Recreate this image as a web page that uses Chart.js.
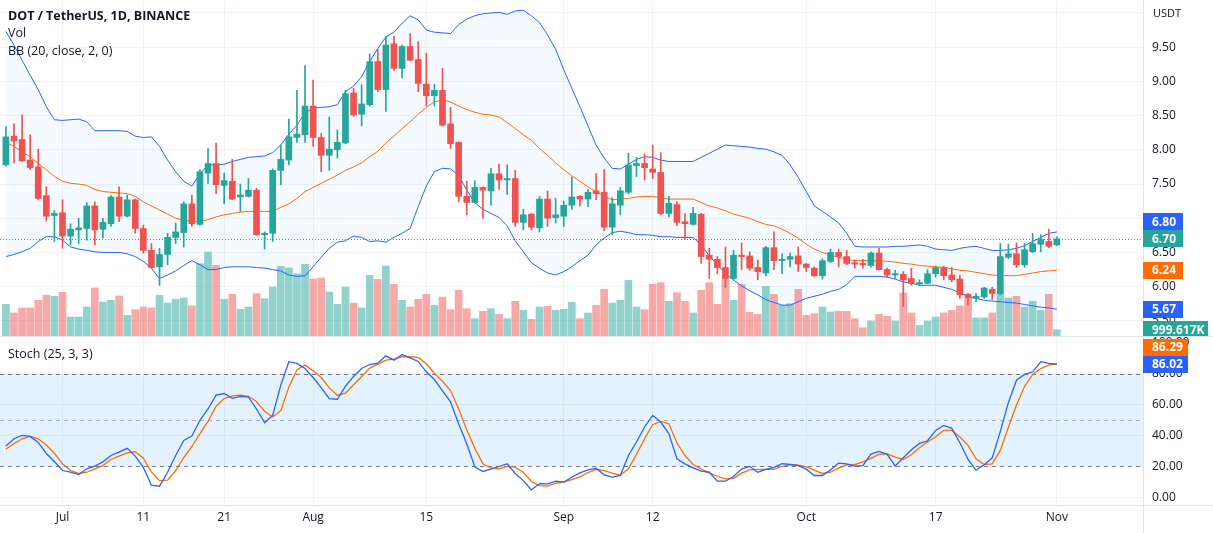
<!DOCTYPE html>
<html><head><meta charset="utf-8">
<script src="https://cdn.jsdelivr.net/npm/chart.js@4.4.0/dist/chart.umd.min.js"></script>
<style>
html,body{margin:0;padding:0;background:#fff;width:1213px;height:533px;overflow:hidden;position:relative}
canvas{position:absolute;left:0}
#pA{top:0}
#pB{top:337px}
.ln{position:absolute;background:#e0e3eb}
</style></head><body>
<div class="ln" style="left:0;top:336px;width:1213px;height:1px"></div>
<div class="ln" style="left:0;top:505px;width:1213px;height:1px"></div>
<div class="ln" style="left:1143px;top:0;width:1px;height:533px"></div>
<canvas id="pA" width="1213" height="336"></canvas>
<canvas id="pB" width="1213" height="196"></canvas>
<script>
// ---------- DATA (DOT/USDT daily, 2022) ----------
const dates = ['06-24','06-25','06-26','06-27','06-28','06-29','06-30',
'07-01','07-02','07-03','07-04','07-05','07-06','07-07','07-08','07-09','07-10','07-11','07-12','07-13','07-14','07-15','07-16','07-17','07-18','07-19','07-20','07-21','07-22','07-23','07-24','07-25','07-26','07-27','07-28','07-29','07-30','07-31',
'08-01','08-02','08-03','08-04','08-05','08-06','08-07','08-08','08-09','08-10','08-11','08-12','08-13','08-14','08-15','08-16','08-17','08-18','08-19','08-20','08-21','08-22','08-23','08-24','08-25','08-26','08-27','08-28','08-29','08-30','08-31',
'09-01','09-02','09-03','09-04','09-05','09-06','09-07','09-08','09-09','09-10','09-11','09-12','09-13','09-14','09-15','09-16','09-17','09-18','09-19','09-20','09-21','09-22','09-23','09-24','09-25','09-26','09-27','09-28','09-29','09-30',
'10-01','10-02','10-03','10-04','10-05','10-06','10-07','10-08','10-09','10-10','10-11','10-12','10-13','10-14','10-15','10-16','10-17','10-18','10-19','10-20','10-21','10-22','10-23','10-24','10-25','10-26','10-27','10-28','10-29','10-30','10-31',
'11-01'];

const open = [7.78,8.20,8.15,7.85,7.75,7.33,7.04,7.08,6.74,6.83, 6.85,7.18,6.84,6.92,7.31,7.03,7.27,6.85,6.53,6.29, 6.47,6.72,6.79,7.21,6.91,7.66,7.80,7.48,7.54,7.31, 7.32,7.41,6.76,6.78,7.70,7.85,8.18,8.22,8.64,8.18, 7.92,8.00,8.10,8.83,8.52,8.66,9.29,8.88,9.55,9.19, 9.51,9.32,8.96,8.79,8.87,8.38,8.11,7.32,7.23,7.45, 7.40,7.65,7.56,7.58,6.94,7.06,6.86,7.28,7.01,7.03, 7.19,7.32,7.28,7.40,7.38,6.87,7.19,7.38,7.77,7.80, 7.72,7.67,7.07,7.20,6.95,6.91,7.06,6.46,6.40,6.28, 6.12,6.46,6.45,6.28,6.20,6.57,6.38,6.40,6.45,6.33, 6.27,6.16,6.37,6.50,6.44,6.35,6.34,6.31,6.49,6.25, 6.17,6.18,6.12,6.04,6.05,6.19,6.28,6.17,6.11,5.89, 5.83,5.85,5.96,5.90,6.43,6.48,6.32,6.51,6.62,6.66, 6.61];
const high = [8.34,8.38,8.51,8.22,8.01,7.46,7.11,7.27,6.92,7.00, 7.23,7.24,7.00,7.33,7.46,7.34,7.28,6.90,6.63,6.56, 6.78,6.93,7.24,7.34,7.71,8.02,8.10,7.66,7.86,7.50, 7.58,7.44,6.80,7.72,8.07,8.45,8.87,9.23,9.02,8.24, 8.48,8.29,8.87,8.90,8.95,9.40,9.47,9.66,9.66,9.53, 9.70,9.58,9.41,8.96,9.19,8.62,8.12,7.54,7.55,7.46, 7.73,7.79,7.78,7.70,7.13,7.07,7.32,7.40,7.29,7.25, 7.60,7.33,7.42,7.65,7.71,7.30,7.45,7.95,7.89,7.94, 8.07,7.96,7.32,7.24,7.07,7.16,7.07,6.56,6.44,6.58, 6.53,6.64,6.51,6.39,6.59,6.80,6.48,6.49,6.58,6.34, 6.29,6.41,6.55,6.55,6.53,6.39,6.40,6.51,6.56,6.27, 6.24,6.22,6.27,6.10,6.25,6.30,6.30,6.28,6.17,5.90, 5.90,5.99,5.99,6.63,6.62,6.64,6.63,6.78,6.76,6.84, 6.73];
const low = [7.76,7.81,7.83,7.71,7.27,6.96,6.66,6.56,6.61,6.63, 6.68,6.61,6.71,6.88,6.95,7.02,6.78,6.49,6.27,6.02, 6.32,6.63,6.58,6.88,6.90,7.51,7.36,7.21,7.27,7.10, 7.31,6.75,6.55,6.66,7.49,7.78,8.11,8.11,8.05,7.68, 7.70,7.88,8.09,8.49,8.35,8.64,8.85,8.56,9.16,9.05, 9.30,8.85,8.64,8.64,8.35,8.02,7.24,7.05,7.22,7.00, 7.19,7.42,7.35,6.88,6.83,6.83,6.80,6.88,6.93,6.88, 7.13,7.18,7.17,7.27,6.82,6.76,7.05,7.36,7.61,7.56, 7.58,7.05,7.02,6.89,6.69,6.90,6.34,6.12,6.19,5.99, 6.10,6.25,6.24,6.10,6.16,6.25,6.19,6.29,6.22,6.22, 6.15,6.11,6.35,6.29,6.32,6.27,6.27,6.29,6.24,6.14, 6.12,5.71,6.02,6.02,6.04,6.14,6.10,6.07,5.83,5.73, 5.78,5.83,5.81,5.88,6.41,6.28,6.28,6.50,6.51,6.57, 6.60];
const close = [8.19,8.13,7.84,7.74,7.29,7.03,7.07,6.74,6.84,6.86, 7.18,6.83,6.94,7.31,7.03,7.27,6.85,6.53,6.28,6.47, 6.72,6.80,7.21,6.92,7.68,7.80,7.49,7.55,7.28,7.34, 7.41,6.76,6.78,7.70,7.86,8.19,8.23,8.64,8.18,7.92, 8.01,8.11,8.82,8.51,8.67,9.29,8.88,9.53,9.19,9.51, 9.31,8.97,8.79,8.87,8.36,8.09,7.32,7.23,7.45,7.41, 7.65,7.56,7.58,6.94,7.05,6.87,7.28,7.00,7.05,7.19, 7.31,7.28,7.38,7.36,6.87,7.21,7.40,7.78,7.80,7.74, 7.67,7.07,7.22,6.94,6.92,7.07,6.44,6.40,6.28,6.12, 6.46,6.44,6.27,6.22,6.57,6.38,6.40,6.44,6.33,6.28, 6.16,6.38,6.50,6.44,6.34,6.33,6.32,6.49,6.25,6.17, 6.19,6.10,6.05,6.06,6.19,6.28,6.16,6.10,5.88,5.84, 5.86,5.98,5.90,6.44,6.48,6.32,6.54,6.63,6.69,6.59, 6.70];
// volume in millions of DOT
const volume = [4.94,3.59,4.37,4.37,5.56,6.34,6.19,6.81,2.96,2.96, 4.52,7.49,5.30,5.56,6.24,3.22,4.11,4.52,4.37,6.34, 5.15,5.72,5.93,4.68,11.28,13.10,11.02,5.72,6.50,4.16, 4.52,6.60,5.82,7.64,10.87,10.61,9.72,11.18,8.89,9.05, 6.86,4.94,7.64,5.15,4.37,9.46,8.84,10.92,8.06,5.56, 4.52,5.72,6.50,4.78,6.08,4.11,7.12,4.26,2.70,3.85, 4.26,3.38,2.70,5.41,4.00,2.60,4.52,4.63,4.00,4.16, 5.25,2.70,3.59,4.78,7.28,5.15,5.56,8.68,4.52,4.11, 8.06,8.32,5.41,6.76,5.41,3.59,7.12,8.32,4.94,8.94, 5.56,8.06,3.69,3.38,7.75,6.50,4.78,5.04,7.28,3.22, 3.48,4.52,3.74,3.85,3.85,2.70,1.30,2.34,3.38,3.07, 2.34,6.71,3.59,1.66,2.34,2.96,3.59,4.00,4.68,5.93, 2.81,2.81,3.59,6.76,5.93,6.19,4.52,5.41,4.00,6.50, 0.999617];
const bbUpper = [9.73,9.53,9.31,9.09,8.88,8.63,8.44,8.43,8.44,8.45, 8.41,8.28,8.28,8.28,8.28,8.27,8.20,8.18,8.19,8.05, 7.85,7.68,7.54,7.47,7.65,7.78,7.78,7.79,7.83,7.86, 7.89,7.90,7.91,7.96,8.07,8.23,8.36,8.54,8.61,8.62, 8.63,8.66,8.85,8.93,9.07,9.29,9.48,9.65,9.72,9.85, 9.96,9.90,9.75,9.72,9.71,9.70,9.83,9.91,9.96,9.99, 10.00,10.01,9.98,10.03,10.04,9.96,9.86,9.68,9.47,9.17, 8.90,8.63,8.35,8.07,7.88,7.73,7.72,7.79,7.86,7.90, 7.89,7.85,7.83,7.83,7.83,7.83,7.89,7.95,8.01,8.07, 8.06,8.05,8.04,8.02,8.01,7.97,7.92,7.78,7.60,7.39, 7.18,7.10,7.02,6.93,6.78,6.59,6.58,6.58,6.58,6.58, 6.59,6.59,6.60,6.61,6.59,6.55,6.54,6.53,6.56,6.58, 6.59,6.56,6.53,6.53,6.54,6.56,6.60,6.66,6.72,6.78, 6.80];
const bbBasis = [8.11,8.05,7.97,7.90,7.80,7.71,7.61,7.54,7.51,7.50, 7.48,7.42,7.39,7.38,7.37,7.36,7.32,7.24,7.18,7.12, 7.06,7.00,6.97,6.96,6.95,6.98,7.02,7.05,7.07,7.09, 7.10,7.10,7.10,7.10,7.16,7.21,7.29,7.39,7.45,7.51, 7.57,7.63,7.70,7.75,7.81,7.90,7.98,8.10,8.20,8.31, 8.41,8.52,8.62,8.70,8.73,8.70,8.64,8.59,8.55,8.52, 8.51,8.48,8.40,8.31,8.22,8.14,8.02,7.92,7.81,7.71, 7.62,7.54,7.46,7.39,7.32,7.27,7.28,7.29,7.31,7.32, 7.32,7.30,7.28,7.28,7.28,7.28,7.23,7.18,7.15,7.11, 7.06,7.03,7.00,6.95,6.91,6.89,6.84,6.78,6.71,6.62, 6.55,6.50,6.46,6.43,6.40,6.38,6.38,6.38,6.38,6.37, 6.36,6.34,6.33,6.31,6.30,6.29,6.28,6.26,6.24,6.23, 6.21,6.19,6.17,6.16,6.16,6.16,6.18,6.20,6.22,6.23, 6.24];
const bbLower = [6.44,6.47,6.51,6.56,6.66,6.73,6.73,6.68,6.58,6.55, 6.53,6.51,6.50,6.50,6.50,6.48,6.44,6.37,6.27,6.12, 6.17,6.23,6.31,6.38,6.32,6.25,6.25,6.28,6.29,6.29, 6.29,6.28,6.27,6.25,6.23,6.17,6.15,6.16,6.29,6.43, 6.56,6.65,6.67,6.74,6.72,6.66,6.67,6.65,6.72,6.78, 6.85,7.17,7.47,7.68,7.73,7.72,7.63,7.41,7.23,7.13, 7.07,7.01,6.89,6.67,6.51,6.35,6.27,6.20,6.17,6.22, 6.29,6.38,6.46,6.61,6.71,6.79,6.81,6.79,6.76,6.76, 6.75,6.73,6.73,6.72,6.72,6.72,6.61,6.45,6.32,6.19, 6.10,6.01,5.94,5.88,5.81,5.77,5.73,5.73,5.78,5.83, 5.86,5.89,5.93,5.96,6.03,6.15,6.15,6.15,6.15,6.14, 6.11,6.07,6.05,6.02,6.02,6.02,5.99,5.96,5.91,5.86, 5.83,5.80,5.79,5.78,5.77,5.76,5.74,5.72,5.70,5.69, 5.67];
const stochK = [33.2,37.9,40.1,39.4,35.5,28.4,23.2,17.4,16.3,14.8, 18.5,20.2,23.0,27.1,29.3,31.7,26.7,19.4,7.9,7.3, 16.3,27.1,36.8,39.6,49.8,57.1,66.0,67.1,64.0,65.3, 64.7,57.1,48.3,53.0,72.5,87.6,86.5,83.2,77.4,70.9, 63.8,63.4,71.8,78.1,83.2,85.8,86.7,91.4,88.6,92.3, 90.1,87.8,81.1,76.1,68.8,61.7,47.6,34.7,19.8,16.8, 18.3,20.0,21.7,15.5,10.9,4.9,9.0,8.8,10.5,9.9, 13.1,15.9,17.8,18.9,14.6,13.1,14.2,27.1,35.8,45.5, 53.0,48.7,41.2,25.0,21.7,19.1,17.0,16.3,10.5,10.5, 13.5,18.3,20.0,16.3,18.1,19.4,21.9,21.3,20.6,18.3, 14.2,14.2,17.8,22.2,21.7,20.2,20.6,28.0,29.7,27.8, 20.4,25.6,30.8,34.9,36.6,43.3,46.5,44.6,35.3,24.7, 17.6,21.1,25.6,42.7,61.2,75.7,79.4,81.1,87.6,86.5, 86.02];
const stochD = [31.2,34.7,37.9,39.4,37.9,33.8,28.6,21.7,17.4,15.5, 16.3,18.5,20.6,24.5,26.7,28.8,29.5,25.4,16.5,10.9, 11.2,17.4,25.8,32.9,41.2,49.1,58.9,63.8,65.5,66.0, 65.3,61.9,55.6,51.9,56.0,71.2,82.4,85.4,81.7,77.4, 70.7,66.0,67.3,72.7,78.1,83.5,86.0,88.6,89.3,90.8, 90.8,90.4,86.3,80.0,75.0,69.0,57.3,43.7,31.7,21.7, 18.9,18.5,20.0,19.6,16.3,10.3,7.7,7.3,9.2,9.9, 11.6,13.3,16.1,18.1,17.4,15.7,14.4,18.5,27.8,37.9, 47.0,49.1,47.6,35.3,27.1,21.3,18.5,15.9,13.7,12.0, 12.4,15.7,17.8,18.1,18.1,18.1,20.0,21.3,20.9,19.8, 17.6,15.5,16.3,18.9,21.1,21.3,23.0,25.2,28.0,28.2, 26.0,24.5,27.6,32.1,35.8,39.2,43.3,43.3,39.0,33.6, 25.0,21.3,21.7,30.4,45.3,59.7,71.6,79.4,83.2,85.4, 86.29];

const tickDates = ['07-01','07-11','07-21','08-01','08-15','09-01','09-12','10-01','10-17','11-01'];
const tickLabels = ['Jul','11','21','Aug','15','Sep','12','Oct','17','Nov'];
const priceTicks = [5.5,6,6.5,7,7.5,8,8.5,9,9.5,10];
const stochTicks = [0,20,40,60,80,100];
const stochBands = [20,50,80];

// ---------- STYLE / LAYOUT ----------
const FONT = "'Open Sans', 'Noto Sans', sans-serif";
const TXT = '#131722';
const UP = '#26a69a', DOWN = '#ef5350';
const BLUE = '#2962ff', ORANGE = '#ff6d00';
const GRID = '#f0f3fa';
const AXIS_W = 70;
const X_MIN = -0.73, X_MAX = 140.65;

const N = close.length;
const idx = close.map((_, i) => i);
const isUp = idx.map(i => close[i] >= open[i]);
const tickPos = tickDates.map(d => dates.indexOf(d));
const pt = arr => arr.map((v, i) => ({x: i, y: v}));

function xScale(showLabels) {
  return {
    type: 'linear', min: X_MIN, max: X_MAX, offset: false,
    grid: {color: GRID, offset: false, drawTicks: false},
    border: {display: false},
    ticks: {display: showLabels, autoSkip: false, maxRotation: 0, padding: 5, color: TXT,
      font: {family: FONT, size: 12},
      callback: v => { const k = tickPos.indexOf(v); return k >= 0 ? tickLabels[k] : ''; }},
    afterBuildTicks: s => { s.ticks = tickPos.map(v => ({value: v})); },
    afterFit: s => { s.height = showLabels ? 28 : 0; s.paddingLeft = 0; s.paddingRight = 0; }
  };
}
function yScale(min, max, ticks, fmt) {
  return {
    type: 'linear', position: 'right', min, max,
    grid: {color: GRID, drawTicks: false},
    border: {display: false},
    ticks: {padding: 9, color: TXT, font: {family: FONT, size: 12}, callback: fmt},
    afterBuildTicks: s => { s.ticks = ticks.map(v => ({value: v})); },
    afterFit: s => { s.width = AXIS_W; s.paddingTop = 0; s.paddingBottom = 0; }
  };
}

function placeTags(tags) {
  const H = 17;
  const main = tags.find(t => t.main);
  main.py = main.y;
  const placed = [main];
  const rest = tags.filter(t => !t.main).sort((a, b) => Math.abs(a.y - main.y) - Math.abs(b.y - main.y));
  for (const t of rest) {
    let py = t.y;
    for (let it = 0; it < 10; it++) {
      let moved = false;
      for (const p of placed) {
        if (Math.abs(py - p.py) < H) { py = (t.y <= p.y ? p.py - H : p.py + H); moved = true; }
      }
      if (!moved) break;
    }
    t.py = py; placed.push(t);
  }
}
function drawTags(ctx, x0, tags) {
  placeTags(tags);
  ctx.save();
  ctx.font = "bold 12px " + FONT;
  ctx.textBaseline = 'middle';
  ctx.textAlign = 'left';
  for (const t of tags) {
    ctx.fillStyle = t.color;
    ctx.fillRect(x0, Math.round(t.py - 8.5), t.w, 17);
    ctx.fillStyle = '#ffffff';
    ctx.fillText(t.text, x0 + 9, t.py + 0.5);
  }
  ctx.restore();
}

// ---------- PRICE PANE ----------
const overlayA = {
  id: 'overlayA',
  afterDatasetsDraw(chart) {
    const {ctx, chartArea, scales} = chart;
    const yc = Math.round(scales.y.getPixelForValue(close[N - 1])) + 0.5;
    ctx.save();
    ctx.strokeStyle = UP; ctx.lineWidth = 1; ctx.setLineDash([1, 2]);
    ctx.beginPath(); ctx.moveTo(chartArea.left, yc); ctx.lineTo(chartArea.right, yc); ctx.stroke();
    ctx.restore();
  },
  afterDraw(chart) {
    const {ctx, chartArea, scales} = chart;
    ctx.save();
    ctx.fillStyle = TXT; ctx.textBaseline = 'middle'; ctx.textAlign = 'left';
    ctx.font = "bold 12.5px " + FONT;
    ctx.fillText('DOT / TetherUS, 1D, BINANCE', 8, 16);
    ctx.font = "12.5px " + FONT;
    ctx.fillText('Vol', 8, 33.5);
    ctx.fillText('BB (20, close, 2, 0)', 8, 51);
    ctx.font = "11px " + FONT;
    ctx.fillText('USDT', chartArea.right + 10, 14);
    ctx.restore();
    const y = scales.y, yv = scales.yv;
    drawTags(ctx, chartArea.right, [
      {y: y.getPixelForValue(bbUpper[N - 1]), text: bbUpper[N - 1].toFixed(2), color: BLUE, w: 40},
      {y: y.getPixelForValue(close[N - 1]), text: close[N - 1].toFixed(2), color: UP, w: 40, main: true},
      {y: y.getPixelForValue(bbBasis[N - 1]), text: bbBasis[N - 1].toFixed(2), color: ORANGE, w: 40},
      {y: y.getPixelForValue(bbLower[N - 1]), text: bbLower[N - 1].toFixed(2), color: BLUE, w: 40},
      {y: yv.getPixelForValue(volume[N - 1]), text: (volume[N - 1] * 1000).toFixed(3) + 'K', color: UP, w: 65}
    ]);
  }
};

new Chart(document.getElementById('pA'), {
  type: 'bar',
  data: {
    datasets: [
      {type: 'bar', data: idx.map(i => ({x: i, y: [open[i], close[i]]})), yAxisID: 'y',
        backgroundColor: isUp.map(u => u ? UP : DOWN), barThickness: 6, grouped: false, minBarLength: 1, order: 0},
      {type: 'bar', data: idx.map(i => ({x: i, y: [low[i], high[i]]})), yAxisID: 'y',
        backgroundColor: isUp.map(u => u ? UP : DOWN), barThickness: 1, grouped: false, order: 1},
      {type: 'line', data: pt(bbBasis), yAxisID: 'y', borderColor: ORANGE, borderWidth: 1, pointRadius: 0, fill: false, order: 2},
      {type: 'line', data: pt(bbLower), yAxisID: 'y', borderColor: BLUE, borderWidth: 1, pointRadius: 0, fill: false, order: 3},
      {type: 'line', data: pt(bbUpper), yAxisID: 'y', borderColor: BLUE, borderWidth: 1, pointRadius: 0,
        fill: {target: 3}, backgroundColor: 'rgba(33,150,243,0.05)', order: 4},
      {type: 'bar', data: pt(volume), yAxisID: 'yv',
        backgroundColor: isUp.map(u => u ? 'rgba(38,166,154,0.5)' : 'rgba(239,83,80,0.5)'),
        barThickness: 7, grouped: false, order: 5}
    ]
  },
  options: {
    responsive: false, animation: false, devicePixelRatio: 1,
    layout: {padding: 0},
    plugins: {legend: {display: false}, tooltip: {enabled: false}},
    scales: {
      x: xScale(false),
      y: yScale(5.279, 10.19, priceTicks, v => v >= 10 ? '' : v.toFixed(2)),
      yv: {type: 'linear', display: false, min: 0, max: 52.4}
    }
  },
  plugins: [overlayA]
});

// ---------- STOCH PANE ----------
const overlayB = {
  id: 'overlayB',
  beforeDatasetsDraw(chart) {
    const {ctx, chartArea, scales} = chart;
    const y = scales.y;
    const yTop = y.getPixelForValue(stochBands[2]), yBot = y.getPixelForValue(stochBands[0]);
    ctx.save();
    ctx.fillStyle = 'rgba(33,150,243,0.12)';
    ctx.fillRect(chartArea.left, yTop, chartArea.right - chartArea.left, yBot - yTop);
    ctx.setLineDash([4, 4]); ctx.lineWidth = 1;
    stochBands.forEach(b => {
      const yy = Math.round(y.getPixelForValue(b)) + 0.5;
      ctx.strokeStyle = b === 50 ? 'rgba(120,123,134,0.55)' : '#787b86';
      ctx.beginPath(); ctx.moveTo(chartArea.left, yy); ctx.lineTo(chartArea.right, yy); ctx.stroke();
    });
    ctx.restore();
  },
  afterDraw(chart) {
    const {ctx, chartArea, scales} = chart;
    ctx.save();
    ctx.fillStyle = TXT; ctx.textBaseline = 'middle'; ctx.textAlign = 'left';
    ctx.font = "12.5px " + FONT;
    ctx.fillText('Stoch (25, 3, 3)', 8, 17);
    ctx.restore();
    const y = scales.y;
    drawTags(ctx, chartArea.right, [
      {y: y.getPixelForValue(stochK[N - 1]), text: stochK[N - 1].toFixed(2), color: BLUE, w: 45, main: true},
      {y: y.getPixelForValue(stochD[N - 1]), text: stochD[N - 1].toFixed(2), color: ORANGE, w: 45}
    ]);
  }
};

new Chart(document.getElementById('pB'), {
  type: 'line',
  data: {
    datasets: [
      {data: pt(stochK), borderColor: BLUE, borderWidth: 1.3, pointRadius: 0, fill: false, order: 0},
      {data: pt(stochD), borderColor: ORANGE, borderWidth: 1.3, pointRadius: 0, fill: false, order: 1}
    ]
  },
  options: {
    responsive: false, animation: false, devicePixelRatio: 1,
    layout: {padding: 0},
    plugins: {legend: {display: false}, tooltip: {enabled: false}},
    scales: {
      x: xScale(true),
      y: yScale(-4.84, 103.55, stochTicks, v => v.toFixed(2))
    }
  },
  plugins: [overlayB]
});
</script></body></html>
